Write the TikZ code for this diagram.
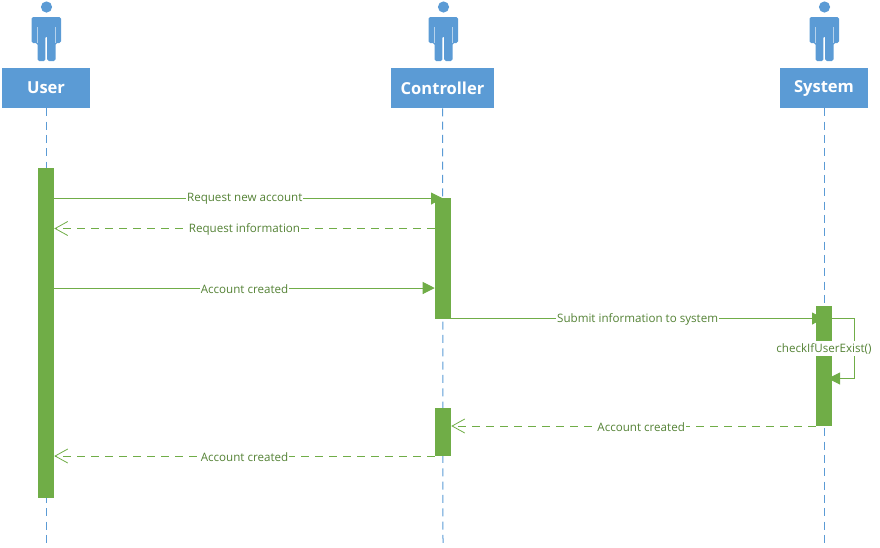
\documentclass[tikz,border=0pt]{standalone}
\usepackage{fontspec}
\setmainfont{Open Sans}
\usetikzlibrary{arrows.meta}
\definecolor{hdr}{HTML}{5B9BD5}
\definecolor{grn}{HTML}{70AD47}
\definecolor{txt}{HTML}{548235}
\tikzset{
  actorbox/.style={fill=hdr,text=white,inner sep=0pt,minimum height=30pt,font=\fontsize{12.4}{15}\selectfont\bfseries},
  lifeline/.style={draw=hdr,line width=0.75pt,dash pattern=on 6pt off 4pt},
  activation/.style={fill=grn,inner sep=0pt,minimum width=12pt},
  msg/.style={draw=grn,line width=0.75pt,-{Triangle[length=9pt,width=9pt,fill=grn]}},
  reply/.style={draw=grn,line width=0.75pt,dash pattern=on 6pt off 4.5pt,-{Straight Barb[length=9.5pt,width=10.5pt,line width=0.6pt]}},
  msglabel/.style={fill=white,text=txt,inner sep=0.6pt,yshift=-0.5pt,font=\fontsize{8.7}{10}\selectfont},
  personfill/.style={fill=hdr},
}
\newcommand{\personicon}[1]{%
  \begin{scope}[shift={(#1,0)}]
    \fill[personfill] (0.5,7) circle (5.6);
    \fill[personfill,rounded corners=1.2pt] (-14.5,43) -- (-14.5,17) -- (15,17) -- (15,43) -- (9.5,43) -- (9.5,61) -- (1.2,61) -- (1.2,36) -- (-0.6,36) -- (-0.6,61) -- (-8.5,61) -- (-8.5,43) -- cycle;
    \draw[white!55!hdr,line width=0.4pt] (-9,27) -- (-9,43) (9.6,27) -- (9.6,43);
  \end{scope}}
\begin{document}
\begin{tikzpicture}[x=0.75pt,y=-0.75pt]
\useasboundingbox (0,0) rectangle (880,547);
\personicon{46}
\personicon{443}
\personicon{824}
\node[actorbox,minimum width=66pt] (user) at (46,88) {User};
\node[actorbox,minimum width=77.25pt] (ctrl) at (442.5,88) {Controller};
\node[actorbox,minimum width=66pt] (sys) at (824,88) {System};
\coordinate (uEnd) at (46,546);
\coordinate (cEnd) at (443,546);
\coordinate (sEnd) at (824,546);
\draw[lifeline] (user.south) -- (uEnd);
\draw[lifeline] (ctrl.south) -- (cEnd);
\draw[lifeline] (sys.south) -- (sEnd);
\node[activation,minimum height=247.5pt] (uA) at (46,333) {};
\node[activation,minimum height=90.75pt] (cA1) at (443,258.5) {};
\node[activation,minimum height=36pt] (cA2) at (443,432) {};
\node[activation,minimum height=90pt] (sA) at (824,366) {};
\coordinate (r1) at (0,198.5);
\coordinate (r2) at (0,228.5);
\coordinate (r3) at (0,288);
\coordinate (r4) at (0,318.5);
\coordinate (r5) at (0,426);
\coordinate (r6) at (0,456);
\coordinate (r7) at (0,378.5);
\coordinate (loopx) at (854.5,0);
\coordinate (loopTip) at (828,378.5);
\draw[msg] (uA.east |- r1) -- node[msglabel,pos=0.49] {Request new account} (cA1.center |- r1);
\draw[reply] (cA1.west |- r2) -- node[msglabel] {Request information} (uA.east |- r2);
\draw[msg] (uA.east |- r3) -- node[msglabel] {Account created} (cA1.west |- r3);
\draw[msg] (cA1.east |- r4) -- node[msglabel] {Submit information to system} (sA.center |- r4);
\draw[msg] (sA.east |- r4) -- (loopx |- r4) -- (loopx |- r7) -- (loopTip);
\node[msglabel,inner xsep=0pt,inner ysep=1.5pt] (chk) at (824,348) {checkIfUserExist()};
\draw[reply] (sA.west |- r5) -- node[msglabel,pos=0.479] {Account created} (cA2.east |- r5);
\draw[reply] (cA2.west |- r6) -- node[msglabel] {Account created} (uA.east |- r6);
\end{tikzpicture}
\end{document}
